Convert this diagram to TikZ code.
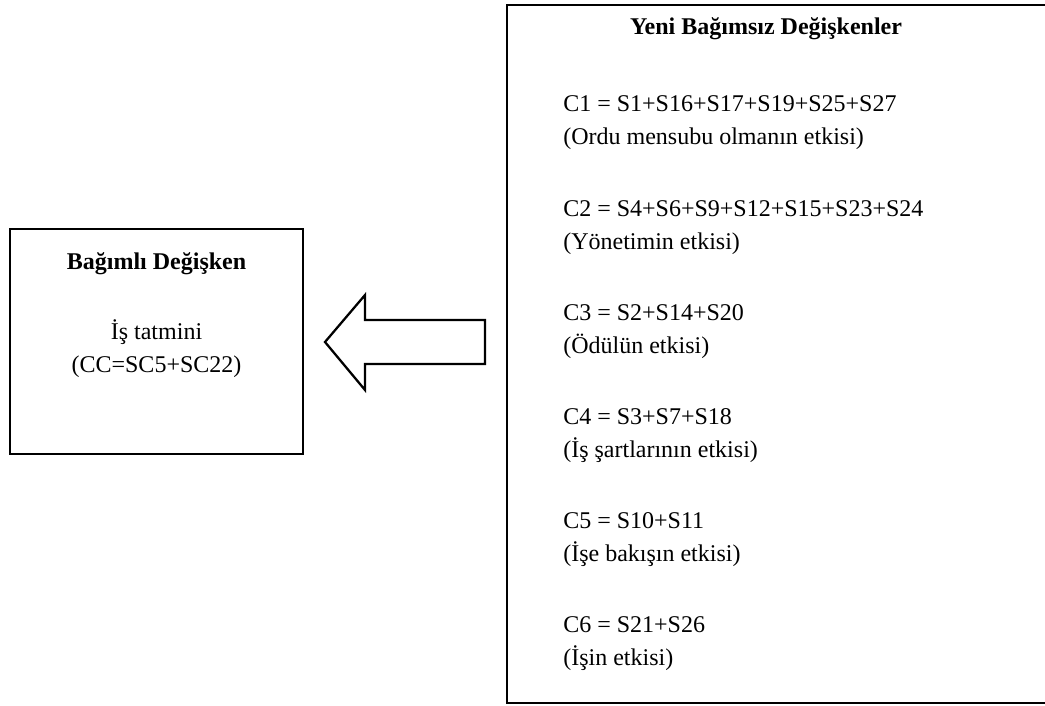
\documentclass[tikz,border=0pt]{standalone}
\usepackage{fontspec}
\setmainfont{Liberation Serif}
\usetikzlibrary{positioning}
\tikzstyle{frame}=[draw,line width=2pt,inner sep=0pt]
\tikzstyle{txt}=[font=\fontsize{18}{24.75}\selectfont,inner sep=0pt]
\tikzstyle{hd}=[inner sep=0pt,font=\fontsize{18}{24.75}\selectfont\bfseries]
\tikzstyle{blockarrow}=[line width=1.7pt,line join=miter]

\begin{document}
\begin{tikzpicture}[x=0.75pt,y=-0.75pt]
	\useasboundingbox (0,0) rectangle (1045,706);
	% the two boxes
	\node[frame,minimum width=219.75pt,minimum height=168.75pt] (dep) at (156.5,341.5) {};
	\node[frame,minimum width=407.25pt,minimum height=523.5pt] (ind) at (778.5,354) {};
	% block arrow from right box to left box
	\draw[blockarrow] (325,342) -- (365,295) -- (365,320) -- (485,320)
	  -- (485,364) -- (365,364) -- (365,390) -- cycle;
	% left box text
	\node[hd,anchor=base] (deptitle) at (156.5,269) {Bağımlı Değişken};
	\node[txt,anchor=base] (depvar) at (156.5,339) {İş tatmini};
	\node[txt,anchor=base] (depform) at (156.5,372) {(CC=SC5+SC22)};
	% right box text
	\node[hd,anchor=base] (indtitle) at (766,35) {Yeni Bağımsız Değişkenler};
	\foreach \eq/\note [count=\k] in {%
	  C1 = S1+S16+S17+S19+S25+S27/(Ordu mensubu olmanın etkisi),
	  C2 = S4+S6+S9+S12+S15+S23+S24/(Yönetimin etkisi),
	  C3 = S2+S14+S20/(Ödülün etkisi),
	  C4 = S3+S7+S18/(İş şartlarının etkisi),
	  C5 = S10+S11/(İşe bakışın etkisi),
	  C6 = S21+S26/(İşin etkisi)} {
	  \node[txt,anchor=base west] (c\k) at (563,8+104*\k) {\eq};
	  \node[txt,anchor=base west] (n\k) at (563,41+104*\k) {\note};
	}
\end{tikzpicture}
\end{document}
